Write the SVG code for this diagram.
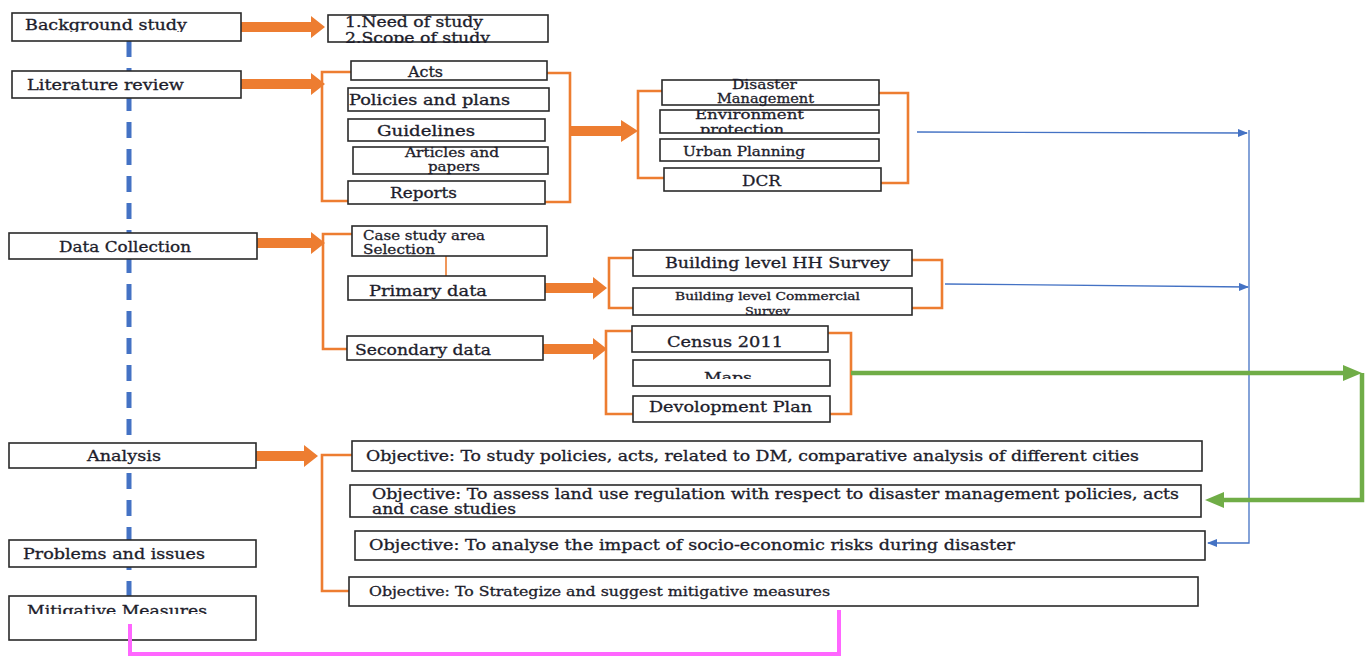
<svg xmlns="http://www.w3.org/2000/svg" width="1368" height="656" viewBox="0 0 1368 656">
<defs>
<style>
.box{fill:#fff;stroke:#2a2a2a;stroke-width:1.6}
.t{font-family:"DejaVu Serif","Liberation Serif",serif;font-size:14px;fill:#1d1d2b;stroke:#1d1d2b;stroke-width:0.3}
.s{font-size:12.5px}
.xs{font-size:10.5px}
.br{fill:none;stroke:#ED7D31;stroke-width:2.6}
.thin{fill:none;stroke:#ED7D31;stroke-width:1.6}
.oa{fill:#ED7D31}
.bl{fill:none;stroke:#4472C4;stroke-width:1.3}
.gr{fill:none;stroke:#70AD47;stroke-width:4.5}
.ga{fill:#70AD47}
.pk{fill:none;stroke:#FF66FF;stroke-width:4}
</style>
<marker id="ba" markerWidth="10" markerHeight="8" refX="9" refY="4" orient="auto" markerUnits="userSpaceOnUse">
<path d="M0,0 L10,4 L0,8 Z" fill="#4472C4"/>
</marker>
<clipPath id="c1"><rect x="328" y="15" width="220" height="28"/></clipPath>
<clipPath id="c2"><rect x="0" y="0" width="1368" height="379"/></clipPath>
<clipPath id="c3"><rect x="9" y="596" width="248" height="18"/></clipPath>
<clipPath id="c4"><rect x="633" y="288" width="279" height="27"/></clipPath>
<clipPath id="c5"><rect x="660" y="110" width="219" height="23"/></clipPath>
<clipPath id="c6"><rect x="12" y="13" width="229" height="19"/></clipPath>
</defs>

<g id="connectors">
<line x1="129" y1="41" x2="129" y2="598" stroke="#4472C4" stroke-width="5" stroke-dasharray="16 11"/>
<polygon class="oa" points="241,22 311,22 311,16 325,27 311,38 311,32 241,32"/>
<polygon class="oa" points="241,79 311,79 311,73 325,84 311,95 311,89 241,89"/>
<path class="br" d="M351,72 H322 V201 H348"/>
<path class="br" d="M547,73 H570 V202 H545"/>
<polygon class="oa" points="570,126 621,126 621,120 638,131 621,142 621,136 570,136"/>
<path class="br" d="M662,91 H638 V178 H664"/>
<path class="br" d="M879,93 H908 V183 H881"/>
<polygon class="oa" points="257,238 311,238 311,232 325,243 311,254 311,248 257,248"/>
<path class="br" d="M352,234 H323 V349 H347"/>
<line class="thin" x1="446" y1="256" x2="446" y2="276"/>
<polygon class="oa" points="545,283 593,283 593,277 607,288 593,299 593,293 545,293"/>
<polygon class="oa" points="543,344 593,344 593,338 607,349 593,360 593,354 543,354"/>
<path class="br" d="M633,258 H609 V308 H633"/>
<path class="br" d="M912,260 H942 V308 H912"/>
<path class="br" d="M632,331 H606 V414 H633"/>
<path class="br" d="M826,333 H851 V414 H830"/>
<line class="bl" x1="917" y1="132" x2="1247" y2="133" marker-end="url(#ba)"/>
<line class="bl" x1="945" y1="284" x2="1248" y2="287" marker-end="url(#ba)"/>
<path class="bl" d="M1249,130 V543 H1208" marker-end="url(#ba)"/>
<line class="gr" x1="851" y1="373" x2="1346" y2="373"/>
<polygon class="ga" points="1343,365 1362,373 1343,381"/>
<path class="gr" d="M1362,373 V500 H1222"/>
<polygon class="ga" points="1224,492 1205,500 1224,508"/>
<polygon class="oa" points="251,451 304,451 304,445 318,456 304,467 304,461 251,461"/>
<path class="br" d="M352,455 H322 V591 H349"/>
</g>

<g id="n-background"><rect class="box" x="12" y="13" width="229" height="28"/><text class="t" x="25" y="30" textLength="162" lengthAdjust="spacingAndGlyphs" clip-path="url(#c6)">Background study</text></g>
<g id="n-need"><rect class="box" x="328" y="15" width="220" height="27"/><g clip-path="url(#c1)"><text class="t" x="345" y="27" textLength="138" lengthAdjust="spacingAndGlyphs">1.Need of study</text><text class="t" x="345" y="43" textLength="145" lengthAdjust="spacingAndGlyphs">2.Scope of study</text></g></g>
<g id="n-literature"><rect class="box" x="12" y="71" width="229" height="27"/><text class="t" x="27" y="90" textLength="157" lengthAdjust="spacingAndGlyphs">Literature review</text></g>
<g id="n-acts"><rect class="box" x="351" y="61" width="196" height="19"/><text class="t" x="408" y="77" textLength="35" lengthAdjust="spacingAndGlyphs">Acts</text></g>
<g id="n-policies"><rect class="box" x="348" y="88" width="201" height="23"/><text class="t" x="349" y="105" textLength="161" lengthAdjust="spacingAndGlyphs">Policies and plans</text></g>
<g id="n-guidelines"><rect class="box" x="348" y="119" width="197" height="22"/><text class="t" x="377" y="136" textLength="98" lengthAdjust="spacingAndGlyphs">Guidelines</text></g>
<g id="n-articles"><rect class="box" x="353" y="147" width="195" height="27"/><text class="t s" x="405" y="157" textLength="94" lengthAdjust="spacingAndGlyphs">Articles and</text><text class="t s" x="428" y="171" textLength="52" lengthAdjust="spacingAndGlyphs">papers</text></g>
<g id="n-reports"><rect class="box" x="348" y="181" width="197" height="23"/><text class="t" x="390" y="198" textLength="67" lengthAdjust="spacingAndGlyphs">Reports</text></g>
<g id="n-dm"><rect class="box" x="662" y="80" width="217" height="25"/><text class="t s" x="732" y="89" textLength="65" lengthAdjust="spacingAndGlyphs">Disaster</text><text class="t s" x="717" y="103" textLength="97" lengthAdjust="spacingAndGlyphs">Management</text></g>
<g id="n-env"><rect class="box" x="660" y="110" width="219" height="23"/><g clip-path="url(#c5)"><text class="t s" x="695" y="119" textLength="109" lengthAdjust="spacingAndGlyphs">Environment</text><text class="t s" x="700" y="134" textLength="84" lengthAdjust="spacingAndGlyphs">protection</text></g></g>
<g id="n-urban"><rect class="box" x="660" y="139" width="219" height="22"/><text class="t s" x="683" y="156" textLength="122" lengthAdjust="spacingAndGlyphs">Urban Planning</text></g>
<g id="n-dcr"><rect class="box" x="664" y="168" width="217" height="23"/><text class="t" x="742" y="186" textLength="39" lengthAdjust="spacingAndGlyphs">DCR</text></g>
<g id="n-data"><rect class="box" x="9" y="233" width="248" height="26"/><text class="t" x="59" y="252" textLength="132" lengthAdjust="spacingAndGlyphs">Data Collection</text></g>
<g id="n-case"><rect class="box" x="352" y="226" width="195" height="30"/><text class="t s" x="363" y="240" textLength="122" lengthAdjust="spacingAndGlyphs">Case study area</text><text class="t s" x="363" y="254" textLength="72" lengthAdjust="spacingAndGlyphs">Selection</text></g>
<g id="n-primary"><rect class="box" x="348" y="276" width="197" height="24"/><text class="t" x="369" y="296" textLength="118" lengthAdjust="spacingAndGlyphs">Primary data</text></g>
<g id="n-secondary"><rect class="box" x="347" y="336" width="196" height="24"/><text class="t" x="355" y="355" textLength="136" lengthAdjust="spacingAndGlyphs">Secondary data</text></g>
<g id="n-hh"><rect class="box" x="633" y="250" width="279" height="26"/><text class="t" x="665" y="268" textLength="225" lengthAdjust="spacingAndGlyphs">Building level HH Survey</text></g>
<g id="n-commercial"><rect class="box" x="633" y="288" width="279" height="27"/><g clip-path="url(#c4)"><text class="t xs" x="675" y="300" textLength="185" lengthAdjust="spacingAndGlyphs">Building level Commercial</text><text class="t xs" x="745" y="315" textLength="45" lengthAdjust="spacingAndGlyphs">Survey</text></g></g>
<g id="n-census"><rect class="box" x="632" y="326" width="196" height="26"/><text class="t" x="667" y="347" textLength="116" lengthAdjust="spacingAndGlyphs">Census 2011</text></g>
<g id="n-maps"><rect class="box" x="633" y="360" width="197" height="26"/><text class="t s" x="704" y="382" textLength="48" lengthAdjust="spacingAndGlyphs" clip-path="url(#c2)">Maps</text></g>
<g id="n-devplan"><rect class="box" x="633" y="396" width="197" height="26"/><text class="t" x="649" y="412" textLength="163" lengthAdjust="spacingAndGlyphs">Devolopment Plan</text></g>
<g id="n-analysis"><rect class="box" x="9" y="443" width="247" height="25"/><text class="t" x="87" y="461" textLength="74" lengthAdjust="spacingAndGlyphs">Analysis</text></g>
<g id="n-obj1"><rect class="box" x="352" y="441" width="850" height="30"/><text class="t" x="366" y="461" textLength="773" lengthAdjust="spacingAndGlyphs">Objective: To study policies, acts, related to DM, comparative  analysis of different cities</text></g>
<g id="n-obj2"><rect class="box" x="350" y="485" width="851" height="32"/><text class="t" x="372" y="499" textLength="807" lengthAdjust="spacingAndGlyphs">Objective: To assess land use regulation with respect to disaster management policies, acts</text><text class="t" x="372" y="514" textLength="144" lengthAdjust="spacingAndGlyphs">and case studies</text></g>
<g id="n-obj3"><rect class="box" x="355" y="531" width="850" height="29"/><text class="t" x="369" y="550" textLength="646" lengthAdjust="spacingAndGlyphs">Objective: To analyse the impact of socio-economic  risks during disaster</text></g>
<g id="n-obj4"><rect class="box" x="349" y="577" width="849" height="29"/><text class="t s" x="369" y="596" textLength="461" lengthAdjust="spacingAndGlyphs">Objective: To Strategize and suggest mitigative measures</text></g>
<g id="n-problems"><rect class="box" x="9" y="540" width="247" height="27"/><text class="t" x="23" y="559" textLength="182" lengthAdjust="spacingAndGlyphs">Problems and issues</text></g>
<g id="n-mitigative"><rect class="box" x="9" y="596" width="247" height="44"/><text class="t" x="27" y="616" textLength="180" lengthAdjust="spacingAndGlyphs" clip-path="url(#c3)">Mitigative Measures</text></g>

<g id="pink-connector">
<path class="pk" d="M130,624 V654 H839 V610"/>
</g>
</svg>
